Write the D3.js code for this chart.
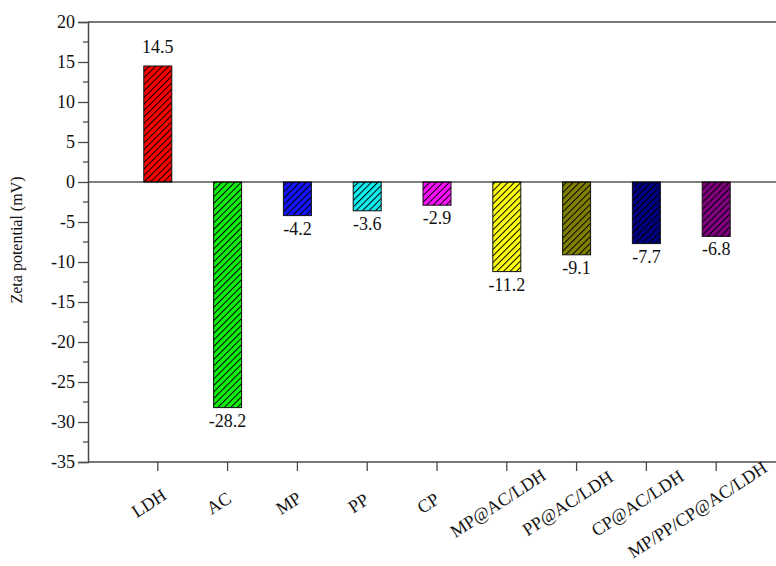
<!DOCTYPE html>
<html>
<head>
<meta charset="utf-8">
<script src="https://cdn.jsdelivr.net/npm/d3@7"></script>
<style>
  html, body { margin: 0; padding: 0; background: #fff; }
  svg { display: block; }
  svg text { font-family: "Liberation Serif", "Times New Roman", serif; }
</style>
</head>
<body>
<svg id="chart" width="776" height="566"></svg>
<script>
// Zeta potential of each sample (mV)
const categories = ["LDH", "AC", "MP", "PP", "CP", "MP@AC/LDH", "PP@AC/LDH", "CP@AC/LDH", "MP/PP/CP@AC/LDH"];
const zeta = [14.5, -28.2, -4.2, -3.6, -2.9, -11.2, -9.1, -7.7, -6.8];
const valueLabels = ["14.5", "-28.2", "-4.2", "-3.6", "-2.9", "-11.2", "-9.1", "-7.7", "-6.8"];
const barColors = ["#ff0000", "#11f011", "#1414ff", "#11eeee", "#ff11ff", "#ffff11", "#808000", "#000080", "#800080"];
const yTicks = [20, 15, 10, 5, 0, -5, -10, -15, -20, -25, -30, -35];
const yMinorTicks = [17.5, 12.5, 7.5, 2.5, -2.5, -7.5, -12.5, -17.5, -22.5, -27.5, -32.5];

const W = 776, H = 566;
const margin = { left: 88, top: 22, bottom: 104 };
const svg = d3.select("#chart");
const axisColor = "#4a4a4a";
const serif = "Liberation Serif, Times New Roman, serif";

const y = d3.scaleLinear().domain([-35, 20]).range([H - margin.bottom, margin.top]);
const x = d3.scalePoint().domain(categories).range([margin.left, 786]).padding(1);
const barW = 28;

// diagonal hatch patterns, one per fill colour
const defs = svg.append("defs");
barColors.forEach((c, i) => {
  const p = defs.append("pattern")
    .attr("id", "hatch" + i)
    .attr("patternUnits", "userSpaceOnUse")
    .attr("width", 4.6).attr("height", 4.6)
    .attr("patternTransform", "rotate(45)");
  p.append("rect").attr("width", 4.6).attr("height", 4.6).attr("fill", c);
  p.append("line").attr("x1", 0.5).attr("y1", 0).attr("x2", 0.5).attr("y2", 4.6)
    .attr("stroke", "#000").attr("stroke-width", 1);
});

// bars
const data = categories.map((c, i) => ({ c, v: zeta[i], label: valueLabels[i], i }));
svg.append("g").selectAll("rect").data(data).join("rect")
  .attr("x", d => x(d.c) - barW / 2)
  .attr("y", d => y(Math.max(0, d.v)))
  .attr("width", barW)
  .attr("height", d => Math.abs(y(d.v) - y(0)))
  .attr("fill", d => `url(#hatch${d.i})`)
  .attr("stroke", "#111").attr("stroke-width", 1);

// value labels
svg.append("g").selectAll("text").data(data).join("text")
  .attr("x", d => x(d.c))
  .attr("y", d => d.v >= 0 ? y(d.v) - 13 : y(d.v) + 19)
  .attr("text-anchor", "middle")
  .attr("font-family", serif)
  .attr("font-size", 18)
  .attr("fill", "#111")
  .text(d => d.label);

// frame: top line, zero line
svg.append("line").attr("x1", margin.left).attr("x2", W).attr("y1", y(20)).attr("y2", y(20))
  .attr("stroke", axisColor).attr("stroke-width", 1.5);
svg.append("line").attr("x1", margin.left).attr("x2", W).attr("y1", y(0)).attr("y2", y(0))
  .attr("stroke", "#000").attr("stroke-width", 1.2);

// y axis
const yAxis = svg.append("g").attr("transform", `translate(${margin.left},0)`)
  .call(d3.axisLeft(y).tickValues(yTicks).tickSize(10).tickPadding(3).tickFormat(d => String(d)));
yAxis.attr("font-family", serif);
yAxis.select(".domain").attr("stroke", axisColor).attr("stroke-width", 1.5);
yAxis.selectAll(".tick line").attr("stroke", axisColor).attr("stroke-width", 1.3);
yAxis.selectAll(".tick text").attr("font-size", 18).attr("fill", "#111")
  .attr("font-family", serif);
svg.append("g").selectAll("line").data(yMinorTicks).join("line")
  .attr("x1", margin.left - 5).attr("x2", margin.left)
  .attr("y1", d => y(d)).attr("y2", d => y(d))
  .attr("stroke", axisColor).attr("stroke-width", 1.3);

// x axis
const yBase = y(-35);
svg.append("line").attr("x1", margin.left).attr("x2", W).attr("y1", yBase).attr("y2", yBase)
  .attr("stroke", axisColor).attr("stroke-width", 1.5);
svg.append("g").selectAll("line").data(categories).join("line")
  .attr("x1", d => x(d)).attr("x2", d => x(d))
  .attr("y1", yBase).attr("y2", yBase + 9)
  .attr("stroke", axisColor).attr("stroke-width", 1.3);

// rotated category labels, slid back along their axis if they would run off the right edge
const ang = -33, rad = ang * Math.PI / 180;
const xl = svg.append("g").selectAll("text").data(categories).join("text")
  .attr("text-anchor", "middle")
  .attr("dy", "0.35em")
  .attr("font-family", serif)
  .attr("font-size", 18)
  .attr("fill", "#111")
  .text(d => d);
xl.each(function(d) {
  const len = this.getComputedTextLength();
  let cx = x(d) - 9, cy = yBase + 41;
  const rightEnd = cx + (len / 2) * Math.cos(rad) + 7;
  const limit = W - 4;
  if (rightEnd > limit) {
    const s = (rightEnd - limit) / Math.cos(rad);
    cx -= s * Math.cos(rad);
    cy -= s * Math.sin(rad);
  }
  d3.select(this).attr("transform", `translate(${cx},${cy}) rotate(${ang})`);
});

// y axis title
svg.append("text")
  .attr("transform", `translate(22,${(y(20) + y(-35)) / 2 - 2}) rotate(-90)`)
  .attr("text-anchor", "middle")
  .attr("font-family", serif)
  .attr("font-size", 16)
  .attr("fill", "#111")
  .text("Zeta potential (mV)");
</script>
</body>
</html>
